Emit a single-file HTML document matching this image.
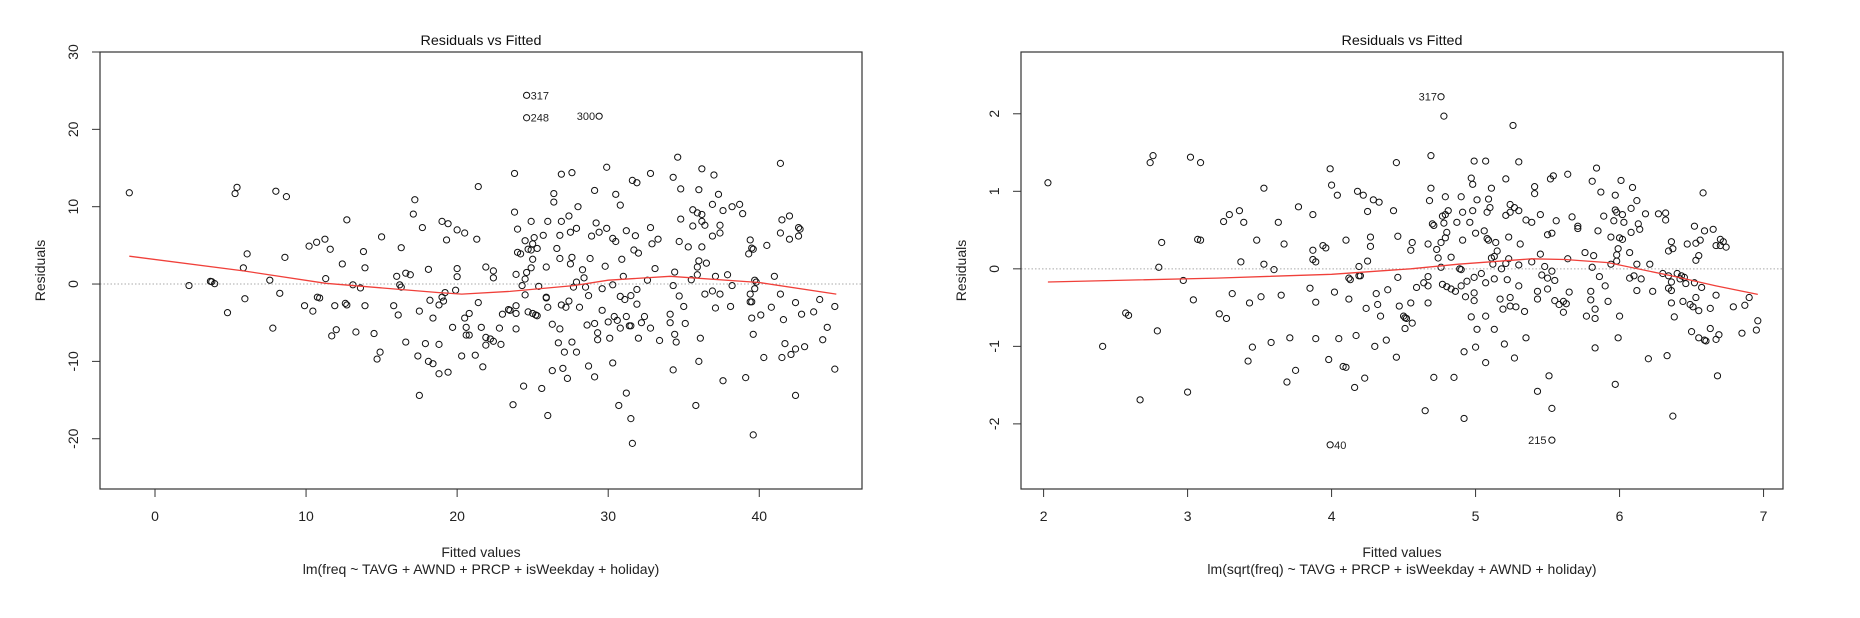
<!DOCTYPE html>
<html><head><meta charset="utf-8"><style>
html,body{margin:0;padding:0;background:#fff;}
svg{display:block;font-family:"Liberation Sans",Arial,sans-serif;}
</style></head><body>
<svg id="chart" width="1860" height="618" viewBox="0 0 1860 618" xmlns="http://www.w3.org/2000/svg"></svg>
<script>
// ---- Left panel data (fitted, residual) ----
const leftFitted = [-1.7,2.25,3.67,3.76,3.95,4.8,5.3,5.43,5.85,5.95,6.1,7.6,7.8,8.0,8.26,8.6,8.7,9.9,10.2,10.45,10.7,10.75,10.9,11.25,11.3,11.6,11.7,11.9,12.0,12.4,12.6,12.7,12.7,13.1,13.3,13.6,13.8,13.9,13.9,14.5,14.7,14.9,15.0,15.8,16.0,16.1,16.2,16.3,16.3,16.6,16.6,16.9,17.1,17.2,17.4,17.5,17.5,17.7,17.9,18.1,18.1,18.2,18.4,18.4,18.8,18.8,18.8,19.0,19.0,19.1,19.2,19.3,19.4,19.4,19.7,19.9,20.0,20.0,20.0,20.3,20.5,20.5,20.6,20.6,20.8,20.8,21.3,21.2,21.4,21.4,21.6,21.7,21.9,21.9,21.9,22.2,22.4,22.4,22.4,22.8,22.9,23.0,23.4,23.5,23.7,23.8,23.8,23.9,23.9,23.9,23.9,24.0,24.0,24.2,24.3,24.4,24.5,24.5,24.5,24.6,24.6,24.6,24.7,24.7,24.9,24.9,24.9,25.0,25.0,25.0,25.1,25.2,25.3,25.3,25.4,25.6,25.7,25.9,25.9,25.9,26.0,26.0,26.0,26.3,26.3,26.4,26.4,26.6,26.7,26.8,26.8,26.8,26.9,26.9,26.9,27.0,27.1,27.2,27.3,27.4,27.4,27.5,27.5,27.6,27.6,27.6,27.7,27.9,27.9,27.9,28.0,28.1,28.3,28.4,28.5,28.6,28.7,28.7,28.8,28.9,29.1,29.1,29.1,29.2,29.3,29.3,29.4,29.4,29.6,29.6,29.8,29.9,29.9,30.0,30.1,30.3,30.3,30.3,30.4,30.5,30.5,30.6,30.7,30.8,30.8,30.8,30.9,31.0,31.1,31.2,31.2,31.2,31.4,31.5,31.5,31.5,31.6,31.6,31.7,31.8,31.9,31.9,31.9,32.0,32.0,32.2,32.4,32.6,32.8,32.8,32.8,32.9,33.1,33.3,33.4,34.1,34.1,34.3,34.3,34.3,34.4,34.4,34.5,34.6,34.7,34.7,34.8,34.8,35.0,35.1,35.3,35.5,35.6,35.6,35.8,35.9,35.9,35.9,36.0,36.0,36.0,36.1,36.2,36.2,36.2,36.2,36.4,36.4,36.5,36.9,36.9,36.9,37.0,37.1,37.1,37.3,37.4,37.4,37.4,37.6,37.6,37.9,38.1,38.2,38.2,38.7,38.9,39.1,39.3,39.4,39.4,39.4,39.5,39.5,39.5,39.6,39.6,39.6,39.7,39.7,39.8,40.1,40.5,40.8,41.0,40.3,41.4,41.5,42.0,42.0,41.4,42.6,42.7,42.6,41.4,42.4,44.0,45.0,42.8,43.6,41.6,44.5,44.2,41.7,43.0,42.4,42.1,41.5,45.0,42.4];
const leftResid = [11.8,-0.2,0.35,0.3,0.05,-3.7,11.7,12.5,2.1,-1.9,3.9,0.5,-5.7,12.0,-1.2,3.45,11.3,-2.8,4.9,-3.5,5.4,-1.7,-1.8,5.8,0.7,4.5,-6.7,-2.8,-5.9,2.6,-2.5,-2.7,8.3,-0.1,-6.2,-0.5,4.2,-2.8,2.1,-6.4,-9.7,-8.8,6.1,-2.8,1.0,-4.0,-0.1,4.7,-0.4,-7.5,1.4,1.2,9.05,10.9,-9.3,-14.4,-3.5,7.3,-7.7,1.9,-10.0,-2.1,-10.3,-4.4,-7.8,-11.6,-2.7,8.1,-1.7,-2.2,-1.1,5.7,7.8,-11.4,-5.6,-0.8,7.0,0.95,2.0,-9.3,-4.4,6.6,-5.6,-6.6,-6.6,-3.8,5.8,-9.2,12.6,-2.4,-5.6,-10.7,2.2,-7.9,-6.9,-7.1,1.7,0.8,-7.4,-5.7,-7.8,-3.9,-3.3,-3.4,-15.6,14.3,9.3,1.25,-3.8,-2.8,-5.8,7.1,4.1,3.9,-0.2,-13.2,-1.4,0.65,5.6,21.5,24.4,1.5,4.5,-3.6,4.4,2.1,8.1,5.2,3.2,-3.8,6.0,-4.0,-4.1,4.6,-0.3,-13.5,6.3,-1.7,-1.8,2.2,8.1,-17.0,-3.0,-11.2,-5.2,11.7,10.6,4.6,-7.6,6.3,3.3,-5.8,-2.7,14.2,8.1,-10.9,-8.8,-3.0,-12.2,-2.2,8.8,6.7,2.6,-7.5,3.45,14.4,-0.4,7.2,-8.8,0.25,10.0,-3.0,1.85,0.8,-0.4,-5.3,-10.6,-1.5,3.3,6.2,12.1,-12.0,-5.1,7.9,-7.2,-6.3,6.7,21.7,-0.6,-3.4,2.3,7.2,15.1,-4.9,-7.0,-0.1,5.9,-10.2,-4.2,11.6,5.5,-4.7,-15.7,-1.6,10.2,-5.7,3.2,1.0,-2.0,-14.1,-4.2,6.9,-5.4,-5.4,-17.4,-1.5,13.4,-20.6,4.4,6.25,-2.6,-0.7,13.1,4.0,-7.0,-5.0,-4.2,0.5,14.3,-5.7,7.3,5.2,2.0,5.8,-7.3,-3.9,-5.0,-11.1,13.8,-0.2,1.55,-6.5,-7.5,16.4,-1.55,5.5,8.4,12.3,-2.9,-5.1,4.8,0.55,9.6,7.5,-15.7,9.2,1.2,2.2,12.2,3.0,-10.0,-7.0,14.9,9.0,8.1,4.8,7.6,-1.3,2.7,10.3,6.2,-0.9,14.1,1.0,-3.1,11.6,-1.3,7.6,6.6,9.5,-12.5,1.2,-2.9,10.0,-0.2,10.3,9.1,-12.1,3.9,-1.3,-2.3,5.7,4.65,-2.3,-4.4,-19.5,-6.5,4.5,0.5,-0.6,0.25,-4.0,5.0,-3.0,1.0,-9.5,15.6,8.3,8.8,5.8,6.6,7.3,7.1,6.2,-1.3,-2.4,-2.0,-2.9,-3.9,-3.6,-4.6,-5.6,-7.2,-7.7,-8.1,-8.4,-9.1,-9.5,-11.0,-14.4];
const leftSmoothX = [-1.7,5.85,11.3,18.7,20.3,23.5,27.7,30,34.1,40,45.1];
const leftSmoothY = [3.6,1.7,0.1,-1.1,-1.3,-0.95,-0.2,0.5,1.0,0.2,-1.3];
const leftLabels = [{id:"317",x:24.6,y:24.4,side:"right"},{id:"248",x:24.6,y:21.5,side:"right"},{id:"300",x:29.4,y:21.7,side:"left"}];
const leftXTicks = [0,10,20,30,40];
const leftYTicks = [-20,-10,0,10,20,30];

// ---- Right panel data ----
const rightFitted = [2.03,2.41,2.57,2.59,2.67,2.74,2.76,2.79,2.8,2.82,2.97,3.0,3.02,3.04,3.07,3.09,3.09,3.22,3.25,3.27,3.29,3.31,3.36,3.37,3.39,3.42,3.43,3.45,3.48,3.51,3.53,3.53,3.58,3.6,3.63,3.65,3.67,3.69,3.71,3.75,3.77,3.85,3.87,3.87,3.87,3.89,3.89,3.89,3.94,3.96,3.98,3.99,3.99,4.0,4.02,4.04,4.05,4.08,4.1,4.1,4.12,4.12,4.13,4.16,4.17,4.18,4.19,4.19,4.2,4.22,4.23,4.24,4.25,4.25,4.27,4.27,4.29,4.3,4.31,4.32,4.33,4.34,4.38,4.39,4.43,4.45,4.45,4.46,4.46,4.47,4.5,4.51,4.51,4.52,4.55,4.55,4.56,4.56,4.59,4.64,4.65,4.67,4.67,4.67,4.67,4.68,4.69,4.69,4.7,4.71,4.71,4.73,4.74,4.76,4.76,4.76,4.77,4.77,4.78,4.78,4.79,4.79,4.79,4.8,4.8,4.81,4.83,4.83,4.85,4.86,4.87,4.89,4.9,4.9,4.9,4.91,4.91,4.92,4.92,4.93,4.94,4.96,4.97,4.97,4.98,4.98,4.99,4.99,4.99,4.99,5.0,5.0,5.01,5.01,5.04,5.06,5.07,5.07,5.07,5.07,5.08,5.08,5.09,5.09,5.1,5.11,5.11,5.12,5.13,5.13,5.13,5.14,5.15,5.17,5.18,5.19,5.2,5.21,5.21,5.21,5.22,5.23,5.23,5.24,5.24,5.24,5.24,5.26,5.27,5.27,5.28,5.3,5.3,5.3,5.3,5.31,5.34,5.35,5.35,5.39,5.39,5.41,5.41,5.43,5.43,5.43,5.45,5.45,5.46,5.5,5.51,5.54,5.52,5.53,5.53,5.56,5.53,5.5,5.48,5.53,5.5,5.55,5.55,5.58,5.61,5.65,5.61,5.63,5.64,5.64,5.67,5.71,5.71,5.76,5.77,5.8,5.8,5.81,5.81,5.82,5.83,5.83,5.83,5.84,5.85,5.86,5.87,5.89,5.9,5.92,5.94,5.94,5.96,5.97,5.97,5.97,5.98,5.98,5.98,5.99,5.99,6.0,6.0,6.01,6.02,6.02,6.03,6.07,6.07,6.08,6.08,6.09,6.1,6.12,6.12,6.12,6.13,6.14,6.15,6.18,6.2,6.21,6.23,6.27,6.3,6.32,6.32,6.33,6.34,6.34,6.34,6.36,6.36,6.36,6.36,6.37,6.37,6.38,6.4,6.42,6.43,6.44,6.45,6.46,6.47,6.49,6.5,6.51,6.52,6.52,6.53,6.53,6.53,6.55,6.55,6.55,6.56,6.57,6.58,6.59,6.59,6.6,6.63,6.63,6.65,6.67,6.67,6.67,6.68,6.69,6.7,6.7,6.72,6.74,6.79,6.85,6.87,6.9,6.95,6.96];
const rightResid = [1.11,-1.0,-0.57,-0.6,-1.69,1.37,1.46,-0.8,0.02,0.34,-0.15,-1.59,1.44,-0.4,0.38,0.37,1.37,-0.58,0.61,-0.64,0.7,-0.32,0.75,0.09,0.6,-1.19,-0.44,-1.01,0.37,-0.36,1.04,0.06,-0.95,-0.01,0.6,-0.34,0.32,-1.46,-0.89,-1.31,0.8,-0.25,0.24,0.7,0.12,0.09,-0.43,-0.9,0.3,0.27,-1.17,1.29,-2.27,1.08,-0.3,0.95,-0.9,-1.26,-1.27,0.37,-0.12,-0.39,-0.14,-1.53,-0.86,1.0,-0.09,0.03,-0.09,0.95,-1.41,-0.51,0.1,0.74,0.41,0.29,0.89,-1.0,-0.32,-0.46,0.86,-0.61,-0.92,-0.27,0.75,1.37,-1.14,-0.11,0.42,-0.48,-0.61,-0.77,-0.63,-0.64,0.24,-0.44,0.34,-0.7,-0.24,-0.18,-1.83,-0.22,0.32,-0.44,-0.1,0.88,1.46,1.04,0.58,0.56,-1.4,0.25,0.14,0.34,2.22,0.02,-0.2,0.68,0.59,1.97,0.93,0.7,0.4,0.47,-0.23,0.75,0.15,-0.26,-1.4,-0.29,0.6,0.0,0.93,-0.22,-0.01,0.37,0.73,-1.07,-1.93,-0.36,-0.16,0.6,-0.62,1.17,1.09,0.75,-0.41,1.39,-0.31,-0.11,-1.01,0.46,0.89,-0.78,-0.06,0.49,-0.18,-1.21,-0.61,1.39,0.73,0.39,0.9,0.37,0.79,1.04,0.14,0.06,-0.78,-0.13,0.16,0.34,0.23,-0.39,0.0,-0.52,-0.97,0.69,0.07,1.16,-0.14,0.41,0.13,-0.37,0.83,-0.48,0.73,1.85,0.79,-1.15,-0.49,0.75,1.38,-0.22,0.05,0.32,-0.55,-0.89,0.63,0.6,0.09,1.06,0.97,-0.29,-0.39,-1.58,0.7,0.19,-0.08,-0.26,-1.38,1.2,1.16,-2.21,-1.8,0.62,0.46,0.44,0.03,-0.03,-0.12,-0.15,-0.41,-0.46,-0.56,-0.3,-0.42,-0.45,0.13,1.22,0.67,0.52,0.55,0.21,-0.61,-0.29,-0.4,1.13,0.02,0.17,-1.02,-0.52,-0.64,1.3,0.49,-0.1,0.99,0.68,-0.22,-0.42,0.41,0.06,0.62,0.76,-1.49,0.95,0.73,0.18,0.1,0.26,-0.89,-0.61,0.4,1.14,0.7,0.38,0.6,-0.12,0.21,0.78,0.47,1.05,-0.09,0.06,-0.28,0.88,0.58,0.51,-0.13,0.71,-1.16,0.06,-0.29,0.71,-0.06,0.72,0.63,-1.12,-0.09,0.23,-0.25,0.35,-0.17,-0.28,-0.44,-1.9,0.26,-0.62,-0.06,-0.13,-0.09,-0.42,-0.11,-0.19,0.32,-0.46,-0.81,-0.49,-0.18,0.55,0.11,-0.37,0.33,0.17,-0.54,-0.89,0.37,-0.24,0.98,-0.92,0.49,-0.93,-0.51,-0.77,0.51,0.3,-0.91,-0.34,-1.38,-0.85,0.38,0.3,0.35,0.28,-0.49,-0.83,-0.47,-0.37,-0.79,-0.67,-0.48,-1.12];
const rightSmoothX = [2.03,3.2,4.0,4.55,4.88,5.39,5.62,5.92,6.36,6.67,6.96];
const rightSmoothY = [-0.17,-0.12,-0.07,0.0,0.06,0.13,0.12,0.08,-0.09,-0.22,-0.33];
const rightLabels = [{id:"317",x:4.76,y:2.22,side:"left"},{id:"40",x:3.99,y:-2.27,side:"right"},{id:"215",x:5.52,y:-2.21,side:"left"}];
const rightXTicks = [2,3,4,5,6,7];
const rightYTicks = [-2,-1,0,1,2];

const NS = "http://www.w3.org/2000/svg";
const svg = document.getElementById("chart");
function mk(tag, attrs, parent, txt){
  const e = document.createElementNS(NS, tag);
  for (const k in attrs) e.setAttribute(k, attrs[k]);
  if (txt !== undefined) e.textContent = txt;
  (parent || svg).appendChild(e);
  return e;
}

function panel(cfg){
  const g = mk("g", {});
  
  
  const L = cfg.left, R = cfg.right, T = 52, B = 489;
  const sx = v => L + (v - cfg.xmin) / (cfg.xmax - cfg.xmin) * (R - L);
  const sy = v => B - (v - cfg.ymin) / (cfg.ymax - cfg.ymin) * (B - T);
  // zero reference line
  const zl = mk("line", {x1:L, x2:R, y1:sy(0), y2:sy(0), stroke:"#aaa", "stroke-width":1, "stroke-dasharray":"1.5,2"}, g);
  
  
  // points
  for (let i = 0; i < cfg.xs.length; i++){
    const c = mk("circle", {cx:sx(cfg.xs[i]), cy:sy(cfg.ys[i]), r:3.1, fill:"none", stroke:"#111", "stroke-width":1}, g);
    
    
  }
  // smooth
  let d = "";
  for (let i = 0; i < cfg.smx.length; i++) d += (i ? "L" : "M") + sx(cfg.smx[i]).toFixed(1) + "," + sy(cfg.smy[i]).toFixed(1);
  const p = mk("path", {d:d, fill:"none", stroke:"#f0403a", "stroke-width":1.3}, g);
  
  
  // outlier labels
  cfg.labels.forEach(o => {
    const t = mk("text", {x: o.side === "right" ? sx(o.x) + 4 : sx(o.x) - 4, y: sy(o.y) + 4, "font-size":11, fill:"#222", "text-anchor": o.side === "right" ? "start" : "end"}, g, o.id);
    
    
  });
  // box
  const bx = mk("rect", {x:L, y:T, width:R - L, height:B - T, fill:"none", stroke:"#333", "stroke-width":1.2}, g);
  
  
  // x axis
  cfg.xt.forEach(v => {
    const ln = mk("line", {x1:sx(v), x2:sx(v), y1:B, y2:B + 8, stroke:"#333"}, g);
    
    
    const t = mk("text", {x:sx(v), y:521, "font-size":14, fill:"#222", "text-anchor":"middle"}, g, String(v));
    
    
  });
  // y axis
  cfg.yt.forEach(v => {
    const ln = mk("line", {x1:L - 8, x2:L, y1:sy(v), y2:sy(v), stroke:"#333"}, g);
    
    
    const t = mk("text", {x:0, y:0, transform:"translate(" + (L - 22) + "," + sy(v) + ") rotate(-90)", "font-size":14, fill:"#222", "text-anchor":"middle"}, g, String(v));
    
    
  });
  const cx = (L + R) / 2;
  const tt = mk("text", {x:cx, y:45, "font-size":14, fill:"#111", "text-anchor":"middle", textLength:121, lengthAdjust:"spacingAndGlyphs"}, g, "Residuals vs Fitted");
  
  
  const yl = mk("text", {x:0, y:0, transform:"translate(" + (L - 55) + "," + ((T + B) / 2) + ") rotate(-90)", "font-size":14, fill:"#222", "text-anchor":"middle"}, g, "Residuals");
  
  
  const xl = mk("text", {x:cx, y:557, "font-size":14, fill:"#222", "text-anchor":"middle"}, g, "Fitted values");
  
  
  const sub = mk("text", {x:cx, y:574, "font-size":14, fill:"#222", "text-anchor":"middle"}, g, cfg.sub);
  
  
}

panel({name:"left-residuals-panel", left:100, right:862, xmin:-3.64, xmax:46.8, ymin:-26.5, ymax:30,
  xs:leftFitted, ys:leftResid, smx:leftSmoothX, smy:leftSmoothY, labels:leftLabels, xt:leftXTicks, yt:leftYTicks,
  sub:"lm(freq ~ TAVG + AWND + PRCP + isWeekday + holiday)"});
panel({name:"right-residuals-panel", left:1021, right:1783, xmin:1.843, xmax:7.135, ymin:-2.84, ymax:2.797,
  xs:rightFitted, ys:rightResid, smx:rightSmoothX, smy:rightSmoothY, labels:rightLabels, xt:rightXTicks, yt:rightYTicks,
  sub:"lm(sqrt(freq) ~ TAVG + PRCP + isWeekday + AWND + holiday)"});
</script>
</body></html>
